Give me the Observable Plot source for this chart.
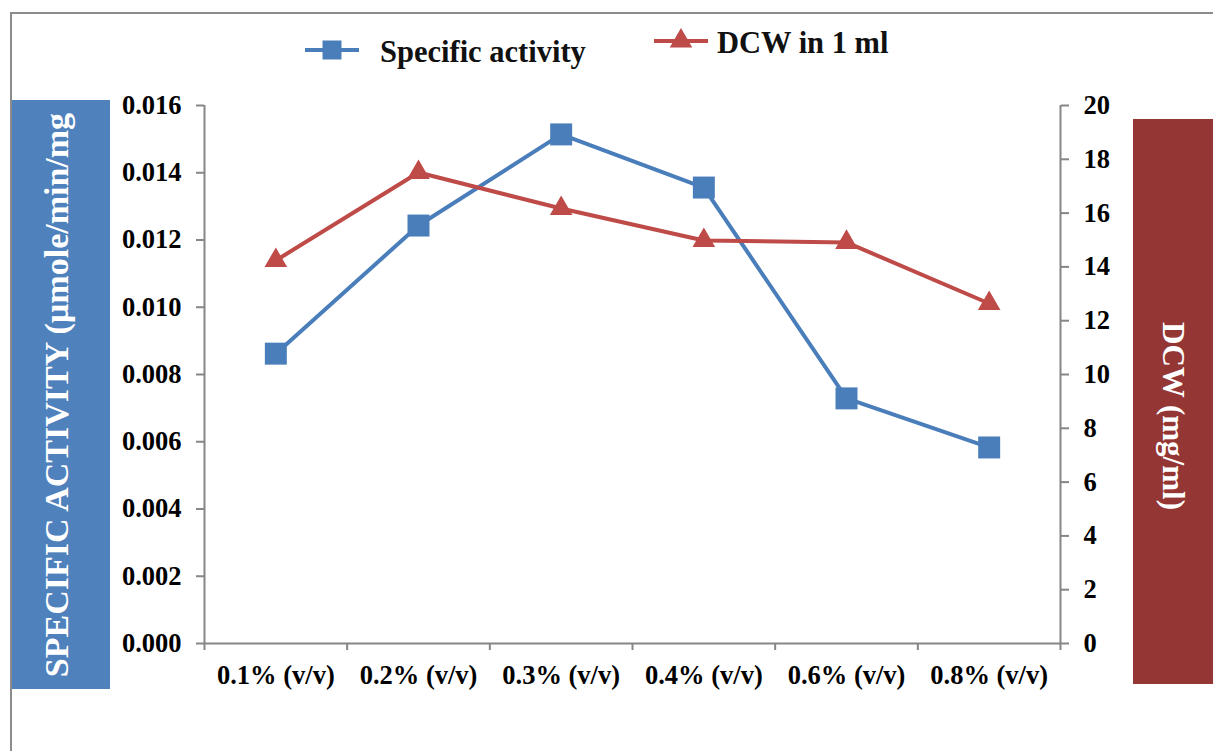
<!DOCTYPE html>
<html>
<head>
<meta charset="utf-8">
<script src="https://cdn.jsdelivr.net/npm/d3@7"></script>
<script src="https://cdn.jsdelivr.net/npm/@observablehq/plot@0.6"></script>
<style>
  html, body { margin: 0; padding: 0; background: #fff; }
  #wrap { position: relative; width: 1213px; height: 751px; overflow: hidden; font-family: "Liberation Serif", "Times New Roman", serif; }
  #chart { position: absolute; left: 0; top: 0; }
  .frame { position: absolute; left: 10px; top: 12px; width: 1220px; height: 760px; border-left: 2px solid #8c8c8c; border-top: 2px solid #8c8c8c; box-sizing: border-box; }
  .box { position: absolute; display: flex; align-items: center; justify-content: center; color: #fff; font-weight: bold; }
  .box span { white-space: nowrap; display: block; }
  .legend { position: absolute; font-family: "Liberation Serif", serif; font-weight: bold; color: #111; white-space: nowrap; }
</style>
</head>
<body>
<div id="wrap">
  <div class="frame"></div>
  <div id="chart"></div>
</div>
<script>
// ---- data ----
const categories = ["0.1% (v/v)", "0.2% (v/v)", "0.3% (v/v)", "0.4% (v/v)", "0.6% (v/v)", "0.8% (v/v)"];
const specificActivity = [0.00862, 0.01243, 0.01514, 0.01356, 0.00729, 0.00583];
const dcw = [14.24, 17.51, 16.17, 14.98, 14.91, 12.64];
const leftTicks = [0, 0.002, 0.004, 0.006, 0.008, 0.010, 0.012, 0.014, 0.016];
const rightTicks = [0, 2, 4, 6, 8, 10, 12, 14, 16, 18, 20];
const seriesNames = ["Specific activity", "DCW in 1 ml"];
const leftTitle = "SPECIFIC ACTIVITY (µmole/min/mg";
const rightTitle = "DCW (mg/ml)";

const blue = "#4a7ebb";
const red = "#be4b48";
const axisGray = "#868686";

// right axis mapped onto left scale
const k = 0.016 / 20;
const saData = categories.map((c, i) => ({i: i + 0.5, v: specificActivity[i]}));
const dcwData = categories.map((c, i) => ({i: i + 0.5, v: dcw[i] * k}));

const chart = Plot.plot({
  width: 1213,
  height: 751,
  marginLeft: 204,
  marginRight: 153,
  marginTop: 105,
  marginBottom: 108,
  style: {fontFamily: "'Liberation Serif', 'Times New Roman', serif", fontWeight: "bold", color: "#000", background: "transparent"},
  x: {type: "linear", domain: [0, categories.length]},
  y: {type: "linear", domain: [0, 0.016]},
  marks: [
    Plot.ruleX([0, categories.length], {stroke: axisGray, strokeWidth: 2}),
    Plot.ruleY([0], {stroke: axisGray, strokeWidth: 2}),
    Plot.axisY({anchor: "left", ticks: leftTicks, tickFormat: d3.format(".3f"), tickSize: 8, tickPadding: 15, fontSize: 26.5, stroke: axisGray, strokeWidth: 2, label: null}),
    Plot.axisY({anchor: "right", ticks: rightTicks.map(v => v * k), tickFormat: d => String(Math.round(d / k)), tickSize: 8, tickPadding: 15, fontSize: 26.5, stroke: axisGray, strokeWidth: 2, label: null}),
    Plot.axisX({anchor: "bottom", ticks: d3.range(0, categories.length + 1), tickFormat: () => "", tickSize: 7, stroke: axisGray, strokeWidth: 2, label: null}),
    Plot.axisX({anchor: "bottom", ticks: categories.map((c, i) => i + 0.5), tickFormat: d => categories[Math.floor(d)], tickSize: 0, tickPadding: 22, fontSize: 26.5, label: null}),
    Plot.line(saData, {x: "i", y: "v", stroke: blue, strokeWidth: 4}),
    Plot.line(dcwData, {x: "i", y: "v", stroke: red, strokeWidth: 4}),
    Plot.dot(saData, {x: "i", y: "v", symbol: "square", r: 12.4, fill: blue, stroke: "none"}),
    Plot.dot(dcwData, {x: "i", y: "v", symbol: "triangle", r: 8.4, fill: red, stroke: "none"})
  ]
});
document.getElementById("chart").appendChild(chart);

const wrap = document.getElementById("wrap");
// left title box
const lb = document.createElement("div");
lb.className = "box";
Object.assign(lb.style, {left: "12px", top: "100px", width: "98px", height: "589px", background: "#4f81bd", fontSize: "34px", paddingRight: "8px", boxSizing: "border-box"});
lb.innerHTML = `<span style="transform: rotate(-90deg); transform-origin: center;"></span>`;
lb.firstChild.textContent = leftTitle;
wrap.appendChild(lb);
// right title box
const rb = document.createElement("div");
rb.className = "box";
Object.assign(rb.style, {left: "1133px", top: "119px", width: "80px", height: "565px", background: "#943634", fontSize: "31px", paddingTop: "28px", boxSizing: "border-box"});
rb.innerHTML = `<span style="transform: rotate(90deg); transform-origin: center;"></span>`;
rb.firstChild.textContent = rightTitle;
wrap.appendChild(rb);

// legend
function legendItem(x, y, color, symbol, label, textX, textY) {
  const s = document.createElementNS("http://www.w3.org/2000/svg", "svg");
  s.setAttribute("width", 60); s.setAttribute("height", 30);
  s.style.position = "absolute"; s.style.left = x + "px"; s.style.top = (y - 15) + "px";
  const ln = document.createElementNS(s.namespaceURI, "line");
  ln.setAttribute("x1", 2); ln.setAttribute("x2", 56); ln.setAttribute("y1", 15); ln.setAttribute("y2", 15);
  ln.setAttribute("stroke", color); ln.setAttribute("stroke-width", 4);
  s.appendChild(ln);
  const p = document.createElementNS(s.namespaceURI, "path");
  p.setAttribute("d", d3.symbol(symbol === "square" ? d3.symbolSquare : d3.symbolTriangle, symbol === "square" ? 360 : 220)());
  p.setAttribute("transform", "translate(29,15)");
  p.setAttribute("fill", color);
  s.appendChild(p);
  wrap.appendChild(s);
  const t = document.createElement("div");
  t.className = "legend";
  Object.assign(t.style, {left: textX + "px", top: (textY - 19) + "px", fontSize: "30.5px", lineHeight: "38px"});
  t.textContent = label;
  wrap.appendChild(t);
}
legendItem(303, 50, blue, "square", seriesNames[0], 380, 52);
legendItem(652, 41, red, "triangle", seriesNames[1], 717, 43);
</script>
</body>
</html>
